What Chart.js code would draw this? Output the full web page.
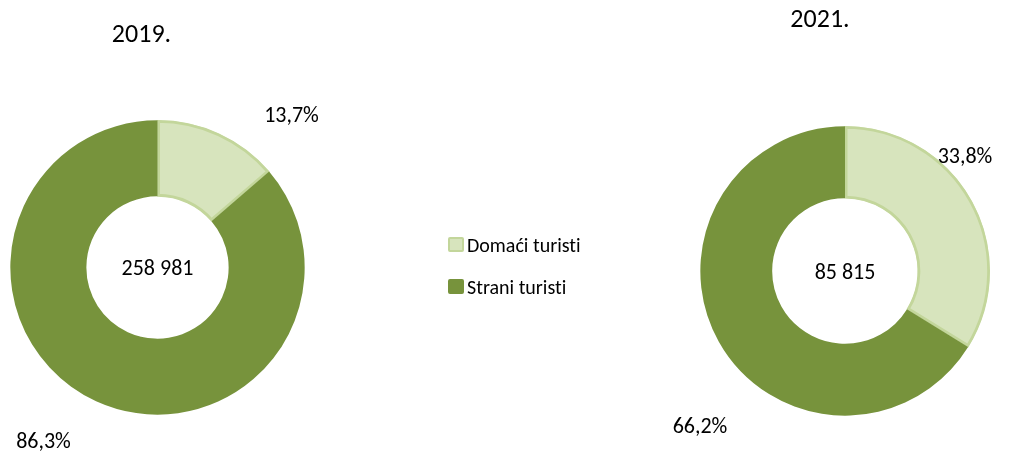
<!DOCTYPE html>
<html>
<head>
<meta charset="utf-8">
<script src="https://cdn.jsdelivr.net/npm/chart.js@4.4.1/dist/chart.umd.min.js"></script>
<style>
  html, body { margin: 0; padding: 0; background: #fff; }
  body { width: 1029px; height: 453px; position: relative; overflow: hidden; font-family: Carlito, Calibri, Lato, sans-serif; font-variant-ligatures: none; }
  canvas { position: absolute; top: 0; }
  #left { left: 0; }
  #right { left: 515px; }
  #legend { position: absolute; left: 448px; top: 233px; font-size: 20px; color: #000; }
  #legend .item { display: flex; align-items: center; height: 23px; margin-bottom: 19px; }
  #legend .box { width: 16px; height: 15px; box-sizing: border-box; margin-right: 3px; border-radius: 2px; }
</style>
</head>
<body>
<canvas id="left" width="515" height="453"></canvas>
<canvas id="right" width="514" height="453"></canvas>
<div id="legend"></div>
<script>
// data
const categories = ['Domaći turisti', 'Strani turisti'];
const years = ['2019.', '2021.'];
const totals = ['258 981', '85 815'];
const share2019 = [13.7, 86.3];
const share2021 = [33.8, 66.2];

const fills = ['#d7e4bd', '#77933c'];
const borders = ['#c3d69b', '#77933c'];
const FONT = 'Carlito, Calibri, Lato, sans-serif';

const fmt = (v) => v.toFixed(1).replace('.', ',') + '%';

// draws title, center total and the percent labels
const textPlugin = {
  id: 'donutText',
  afterDraw(chart, args, opts) {
    const { ctx } = chart;
    const arc = chart.getDatasetMeta(0).data[0];
    const cx = arc.x, cy = arc.y;
    ctx.save();
    ctx.fillStyle = '#000';
    ctx.textAlign = 'center';
    ctx.textBaseline = 'middle';
    ctx.canvas.style.fontVariantLigatures = 'none';

    ctx.font = `26px ${FONT}`;
    ctx.fillText(opts.title, cx + opts.titleOffset[0], cy + opts.titleOffset[1]);

    ctx.font = `22px ${FONT}`;
    ctx.fillText(opts.center, cx, cy + 2);

    const values = chart.data.datasets[0].data;
    values.forEach((v, i) => {
      const [dx, dy] = opts.labelOffsets[i];
      ctx.fillText(fmt(v), cx + dx, cy + dy);
    });
    ctx.restore();
  },
};

function makeDonut(id, values, cutout, padding, pluginOpts) {
  return new Chart(document.getElementById(id), {
    type: 'doughnut',
    data: {
      labels: categories,
      datasets: [{
        data: values,
        backgroundColor: fills,
        borderColor: borders,
        borderWidth: [2.5, 0],
        borderAlign: 'inner',
        hoverOffset: 0,
      }],
    },
    options: {
      responsive: false,
      animation: false,
      cutout,
      layout: { padding },
      plugins: {
        legend: { display: false },
        tooltip: { enabled: false },
        donutText: pluginOpts,
      },
    },
    plugins: [textPlugin],
  });
}

makeDonut('left', share2019, '48%', { left: 10, right: 210, top: 120, bottom: 38 }, {
  title: years[0],
  center: totals[0],
  titleOffset: [-16, -232],
  labelOffsets: [[134, -151], [-114, 175]],
});

makeDonut('right', share2021, '50%', { left: 185, right: 39, top: 126, bottom: 37 }, {
  title: years[1],
  center: totals[1],
  titleOffset: [-25, -251],
  labelOffsets: [[120, -114], [-145, 156]],
});

// legend
const legend = document.getElementById('legend');
legend.innerHTML = categories.map((c, i) => `
  <div class="item">
    <span class="box" style="background:${fills[i]};border:2px solid ${borders[i]}"></span>
    <span>${c}</span>
  </div>`).join('');
</script>
</body>
</html>
